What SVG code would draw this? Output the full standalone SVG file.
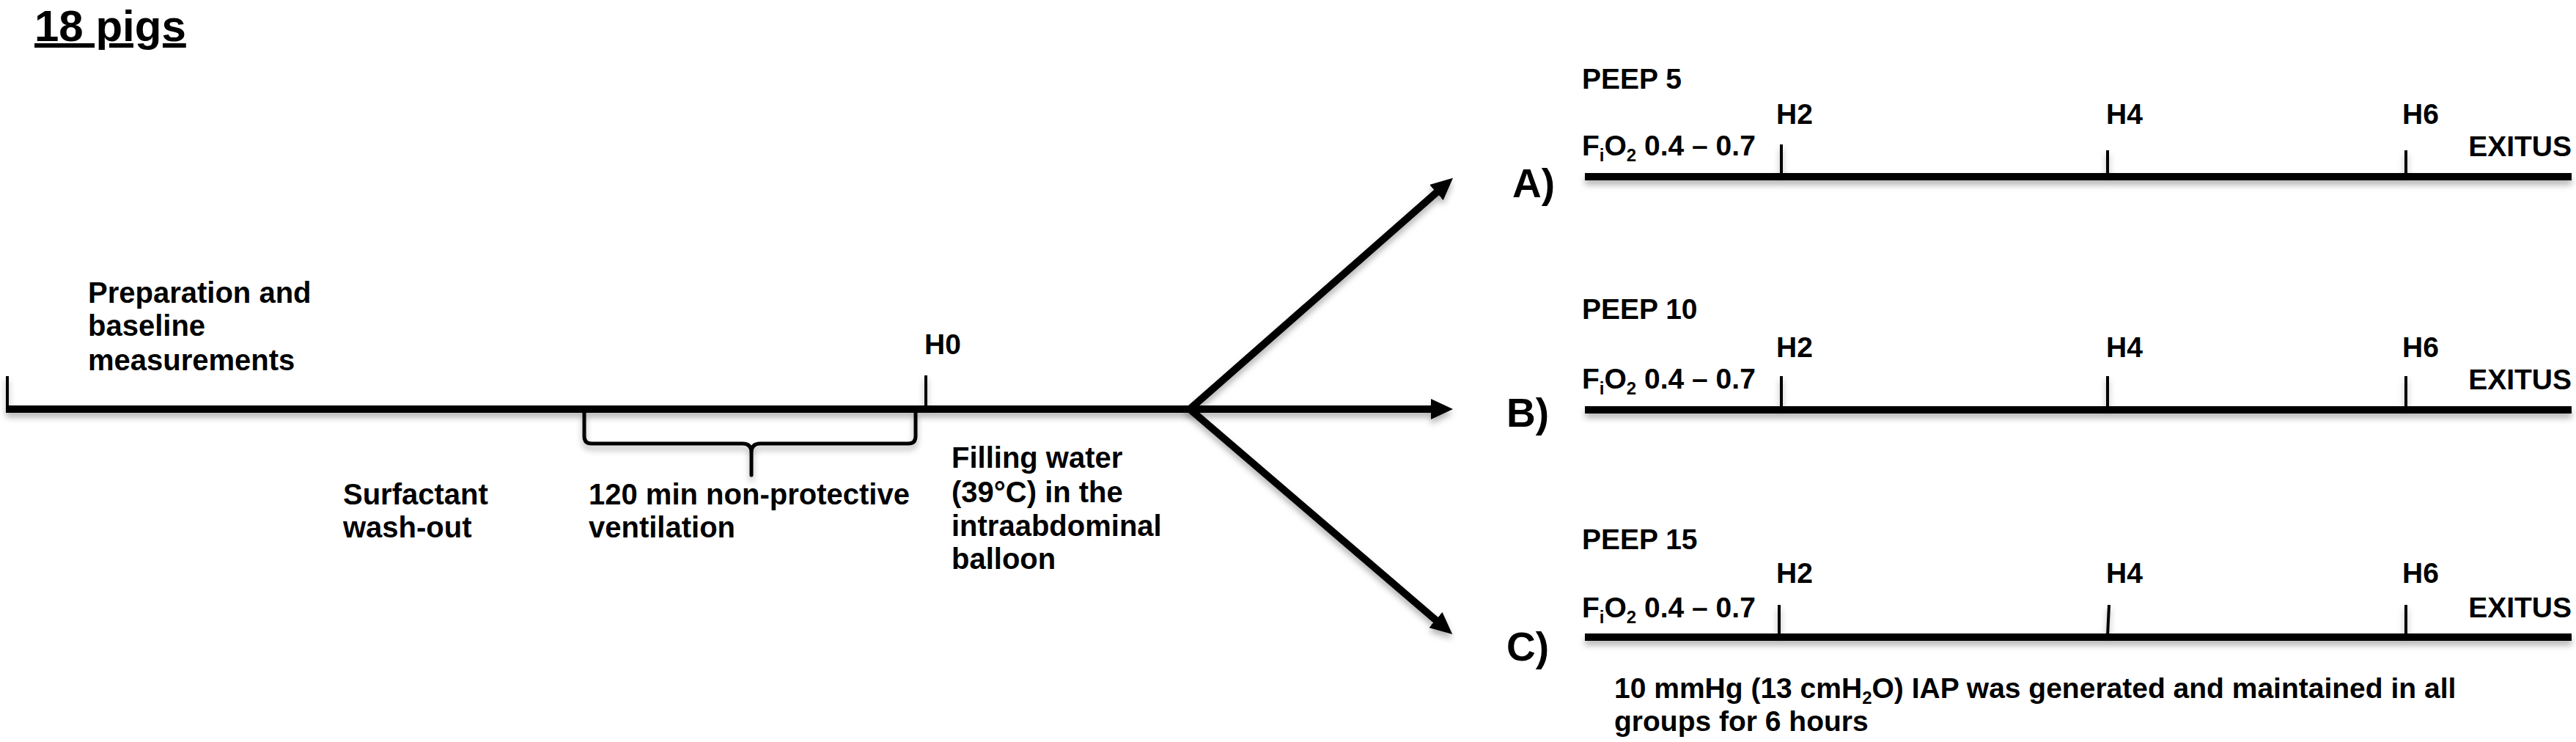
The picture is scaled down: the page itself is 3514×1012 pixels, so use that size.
<svg xmlns="http://www.w3.org/2000/svg" width="3514" height="1012" viewBox="0 0 3514 1012">
<style>
text{font-family:"Liberation Sans",Arial,Helvetica,sans-serif;font-weight:bold;fill:#000;font-size:39px}
.l{font-size:40px}
.ln{stroke:#000;stroke-width:10;fill:none}
.tk{stroke:#000;stroke-width:4;fill:none}
.br{stroke:#000;stroke-width:5;fill:none;stroke-linejoin:round}
.big{font-size:55px}
.title{font-size:60px;text-decoration:underline}
</style>
<defs>
<filter id="sh" x="-5%" y="-50%" width="110%" height="300%">
<feDropShadow dx="0" dy="6" stdDeviation="4" flood-color="#000" flood-opacity="0.3"/>
</filter>
<marker id="ah" markerUnits="userSpaceOnUse" markerWidth="30" markerHeight="28" refX="10" refY="14" orient="auto-start-reverse" viewBox="0 0 30 28">
<path d="M0,0 L30,14 L0,28 z" fill="#000"/>
</marker>
</defs>
<rect width="3514" height="1012" fill="#fff"/>

<g id="title"><text class="title" x="47" y="56">18 pigs</text></g>

<g id="baseline-phase">
<text class="l" x="120" y="413">Preparation and</text>
<text class="l" x="120" y="458">baseline</text>
<text class="l" x="120" y="505">measurements</text>
</g>
<g id="washout"><text class="l" x="468" y="688">Surfactant</text><text class="l" x="468" y="733">wash-out</text></g>
<g id="nonprotective"><text class="l" x="803" y="688">120 min non-protective</text><text class="l" x="803" y="733">ventilation</text></g>
<g id="h0"><text x="1261" y="483">H0</text></g>
<g id="filling">
<text class="l" x="1298" y="638">Filling water</text>
<text class="l" x="1298" y="685">(39°C) in the</text>
<text class="l" x="1298" y="731">intraabdominal</text>
<text class="l" x="1298" y="776">balloon</text>
</g>

<g id="main-timeline" filter="url(#sh)">
<line class="ln" x1="8" y1="558" x2="1962" y2="558" marker-end="url(#ah)"/>
<line class="tk" x1="10" y1="513" x2="10" y2="556"/>
<line class="tk" x1="1263" y1="512" x2="1263" y2="556"/>
<path class="br" d="M797,563 V595 Q797,605 807,605 H1013 Q1025,605 1025,617 V648 V617 Q1025,605 1037,605 H1239 Q1249,605 1249,595 V563"/>
</g>

<g id="connectors" filter="url(#sh)">
<path class="ln" style="stroke-linejoin:miter" d="M1967,256 L1623,558 L1966,852" marker-start="url(#ah)" marker-end="url(#ah)"/>
</g>

<g id="group-a">
<text class="big" x="2063" y="269">A)</text>
<text x="2158" y="121">PEEP 5</text>
<text x="2158" y="212">F<tspan font-size="24" dy="8">i</tspan><tspan dy="-8">O</tspan><tspan font-size="24" dy="8">2</tspan><tspan dy="-8"> 0.4 – 0.7</tspan></text>
<text x="2423" y="169">H2</text><text x="2873" y="169">H4</text><text x="3277" y="169">H6</text>
<text x="3508" y="213" text-anchor="end">EXITUS</text>
<g filter="url(#sh)">
<line class="ln" x1="2162" y1="241" x2="3508" y2="241"/>
<line class="tk" x1="2430" y1="197" x2="2430" y2="239"/>
<line class="tk" x1="2875" y1="205" x2="2875" y2="239"/>
<line class="tk" x1="3282" y1="205" x2="3282" y2="239"/>
</g>
</g>

<g id="group-b">
<text class="big" x="2055" y="582">B)</text>
<text x="2158" y="435">PEEP 10</text>
<text x="2158" y="530">F<tspan font-size="24" dy="8">i</tspan><tspan dy="-8">O</tspan><tspan font-size="24" dy="8">2</tspan><tspan dy="-8"> 0.4 – 0.7</tspan></text>
<text x="2423" y="487">H2</text><text x="2873" y="487">H4</text><text x="3277" y="487">H6</text>
<text x="3508" y="531" text-anchor="end">EXITUS</text>
<g filter="url(#sh)">
<line class="ln" x1="2162" y1="559" x2="3508" y2="559"/>
<line class="tk" x1="2430" y1="513" x2="2430" y2="557"/>
<line class="tk" x1="2875" y1="513" x2="2875" y2="557"/>
<line class="tk" x1="3282" y1="513" x2="3282" y2="557"/>
</g>
</g>

<g id="group-c">
<text class="big" x="2055" y="901">C)</text>
<text x="2158" y="749">PEEP 15</text>
<text x="2158" y="842">F<tspan font-size="24" dy="8">i</tspan><tspan dy="-8">O</tspan><tspan font-size="24" dy="8">2</tspan><tspan dy="-8"> 0.4 – 0.7</tspan></text>
<text x="2423" y="795">H2</text><text x="2873" y="795">H4</text><text x="3277" y="795">H6</text>
<text x="3508" y="842" text-anchor="end">EXITUS</text>
<g filter="url(#sh)">
<line class="ln" x1="2162" y1="869" x2="3508" y2="869"/>
<line class="tk" x1="2427" y1="825" x2="2427" y2="867"/>
<line class="tk" x1="2877" y1="825" x2="2875" y2="867"/>
<line class="tk" x1="3282" y1="825" x2="3282" y2="867"/>
</g>
<text x="2202" y="952">10 mmHg (13 cmH<tspan font-size="24" dy="8">2</tspan><tspan dy="-8">O) IAP was generated and maintained in all</tspan></text>
<text x="2202" y="997">groups for 6 hours</text>
</g>
</svg>
